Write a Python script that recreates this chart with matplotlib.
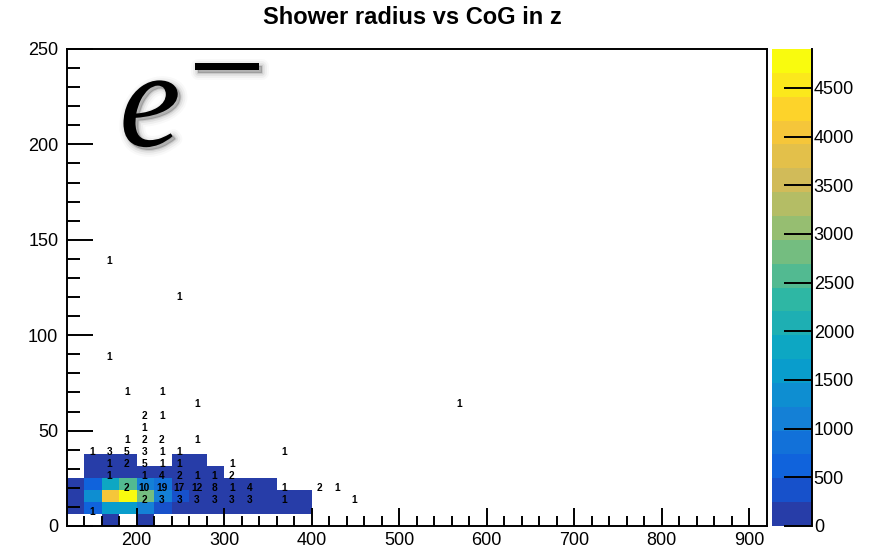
import numpy as np
import matplotlib
matplotlib.use("Agg")
import matplotlib.pyplot as plt
import matplotlib.patheffects as pe
from matplotlib.colors import ListedColormap, BoundaryNorm

# binning: CoG in z on x (20 wide), shower radius on y (6.25 wide)
x_edges = np.arange(120, 921, 20)
y_edges = np.linspace(0, 250, 41)

# colour layer, counts per bin (radius rows 0..5, z columns 0..13)
radius_row0 = [0, 0, 100, 0, 60, 0, 0, 0, 0, 0, 0, 0, 0, 0]
radius_row1 = [150, 520, 1600, 1650, 1000, 350, 150, 120, 100, 80, 60, 40, 30, 20]
radius_row2 = [120, 1300, 4100, 4900, 2800, 1150, 350, 180, 150, 120, 90, 60, 40, 25]
radius_row3 = [80, 520, 1800, 2550, 1150, 800, 200, 150, 100, 70, 50, 30, 0, 0]
radius_row4 = [0, 30, 60, 80, 100, 90, 60, 40, 20, 0, 0, 0, 0, 0]
radius_row5 = [0, 10, 20, 25, 0, 0, 15, 10, 0, 0, 0, 0, 0, 0]

# text layer (bin index in z, bin index in radius, printed count)
text_ix = [1, 4, 5, 6, 7, 8, 9, 10, 12, 16,
           3, 4, 5, 6, 7, 8, 9, 10, 12, 14, 15,
           2, 4, 5, 6, 7, 8, 9,
           2, 3, 4, 5, 6, 9,
           1, 2, 3, 4, 5, 6, 12,
           3, 4, 5, 7,
           4, 4, 5, 7, 22, 3, 5, 2, 6, 2]
text_iy = [1, 2, 2, 2, 2, 2, 2, 2, 2, 2,
           3, 3, 3, 3, 3, 3, 3, 3, 3, 3, 3,
           4, 4, 4, 4, 4, 4, 4,
           5, 5, 5, 5, 5, 5,
           6, 6, 6, 6, 6, 6, 6,
           7, 7, 7, 7,
           8, 9, 9, 10, 10, 11, 11, 14, 19, 22]
text_n = [1, 2, 3, 3, 3, 3, 3, 3, 1, 1,
          2, 10, 19, 17, 12, 8, 1, 4, 1, 2, 1,
          1, 1, 4, 2, 1, 1, 2,
          1, 2, 5, 1, 1, 1,
          1, 3, 5, 3, 1, 1, 1,
          1, 2, 2, 1,
          1, 2, 1, 1, 1, 1, 1, 1, 1, 1]

# ROOT kBird palette, 20 contour levels
bird_stops = [0.0, 0.125, 0.25, 0.375, 0.5, 0.625, 0.75, 0.875, 1.0]
bird_r = [0.2082, 0.0592, 0.0780, 0.0232, 0.1802, 0.5301, 0.8186, 0.9956, 0.9764]
bird_g = [0.1664, 0.3599, 0.5041, 0.6419, 0.7178, 0.7492, 0.7328, 0.7862, 0.9832]
bird_b = [0.5293, 0.8684, 0.8385, 0.7914, 0.6425, 0.4662, 0.3499, 0.1968, 0.0539]
n_levels = 20
pos = ((np.arange(n_levels) + 0.99) * 255 / n_levels).astype(int) / 254.0
colors = np.column_stack([np.interp(pos, bird_stops, bird_r),
                          np.interp(pos, bird_stops, bird_g),
                          np.interp(pos, bird_stops, bird_b)])
cmap = ListedColormap(colors)

counts = np.zeros((len(y_edges) - 1, len(x_edges) - 1))
block = np.array([radius_row0, radius_row1, radius_row2,
                  radius_row3, radius_row4, radius_row5])
counts[:block.shape[0], :block.shape[1]] = block
zmax = counts.max()
norm = BoundaryNorm(np.linspace(0, zmax, n_levels + 1), n_levels)

plt.rcParams['font.family'] = ['Liberation Sans', 'DejaVu Sans']

W, H = 879, 548
fig = plt.figure(figsize=(W / 100, H / 100), dpi=100)
ax = fig.add_axes([66.7 / W, 22 / H, 700 / W, 477 / H])

mesh = ax.pcolormesh(x_edges, y_edges, np.ma.masked_equal(counts, 0),
                     cmap=cmap, norm=norm)

x_mid = (x_edges[:-1] + x_edges[1:]) / 2
y_mid = (y_edges[:-1] + y_edges[1:]) / 2
for ix, iy, n in zip(text_ix, text_iy, text_n):
    ax.annotate(str(n), (x_mid[ix], y_mid[iy]), xytext=(-0.8, -2.5),
                textcoords='offset points', ha='center', va='center',
                fontsize=7.3, fontweight='bold', color='black')

ax.set_xlim(120, 920)
ax.set_ylim(0, 250)
ax.set_xticks(np.arange(200, 901, 100))
ax.set_xticks(np.arange(140, 920, 20), minor=True)
ax.set_yticks(np.arange(0, 251, 50))
ax.set_yticks(np.arange(0, 251, 10), minor=True)
ax.tick_params(which='both', direction='in', width=1.4, labelsize=13)
ax.tick_params(axis='x', which='major', length=13, pad=4)
ax.tick_params(axis='x', which='minor', length=7)
ax.tick_params(axis='y', which='major', length=19, pad=6)
ax.tick_params(axis='y', which='minor', length=9.5)
for sp in ax.spines.values():
    sp.set_linewidth(1.4)

# e- label with a soft shadow
shadow = [pe.Stroke(offset=(2, -2), linewidth=lw, foreground='black', alpha=a)
          for lw, a in [(10, 0.025), (7, 0.04), (4, 0.06), (1.5, 0.1)]]
shadow.append(pe.Normal())
ax.text(0.119, 0.797, "e", transform=ax.transAxes, ha='center', va='baseline',
        fontsize=100, family='Liberation Serif', style='italic',
        path_effects=shadow)
ax.text(0.229, 0.866, "\u2212", transform=ax.transAxes, ha='center', va='baseline',
        fontsize=100, family='Liberation Serif', path_effects=shadow)

fig.text(412 / W, 1 - 17 / H, "Shower radius vs CoG in z", ha='center', va='center',
         fontsize=17, fontweight='bold')

# palette axis
cax = fig.add_axes([771.7 / W, 22 / H, 40 / W, 477 / H])
cb = fig.colorbar(mesh, cax=cax, spacing='proportional')
cb.outline.set_visible(False)
cax.spines['right'].set_visible(True)
cax.spines['right'].set_linewidth(1.4)
cb.set_ticks(np.arange(0, 4501, 500))
cb.set_ticklabels([str(v) for v in range(0, 4501, 500)])
cax.tick_params(which='major', direction='in', length=20, width=1.4,
                labelsize=13, pad=1.5)
cax.minorticks_off()

fig.savefig("out.png", dpi=100)
